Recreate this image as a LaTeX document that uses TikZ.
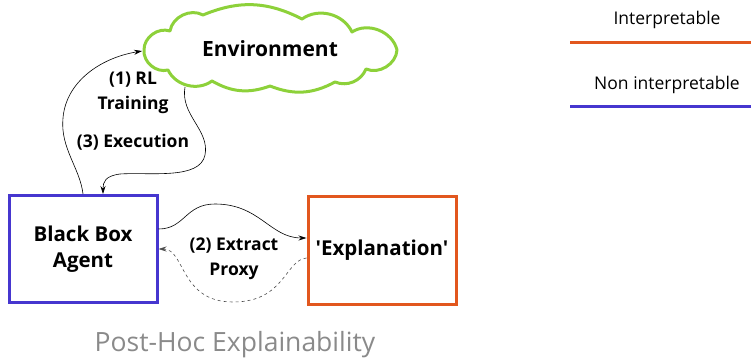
\documentclass[tikz,border=0pt]{standalone}
\usepackage{fontspec}
\setmainfont{Open Sans}
\newfontfamily\osplain{Open Sans}
\usetikzlibrary{arrows.meta}
\definecolor{orng}{HTML}{E2571E}
\definecolor{blu}{HTML}{4636CF}
\definecolor{grn}{HTML}{8DD13A}
\definecolor{gry}{HTML}{8A8A8A}
\begin{document}
\begin{tikzpicture}[x=1pt,y=-1pt,
  box/.style={draw,line width=3pt,minimum width=148pt,minimum height=107pt,align=center,font=\fontsize{20.5}{26}\selectfont\bfseries,inner sep=0pt},
  lbl/.style={font=\fontsize{17.5}{21}\selectfont\bfseries,inner sep=0pt},
  leg/.style={font=\fontsize{17.5}{21}\selectfont,inner sep=0pt},
  conn/.style={line width=0.6pt,-{Stealth[length=8pt,width=5pt]}},
  dconn/.style={conn,dashed,draw=black!70},
  cloudline/.style={draw=grn,line width=3pt,line join=round}]
\useasboundingbox (0,0) rectangle (751,363);
\draw[cloudline] (144,50) to[bend left=55] (170,31) to[bend left=55] (203,15)
  to[bend left=25] (302,19) to[bend left=50] (352,32) to[bend left=55] (397,50)
  to[bend left=55] (366,69) to[bend left=45] (335,82) to[bend left=25] (270,86)
  to[bend left=25] (212,81) to[bend left=50] (168,70) to[bend left=55] cycle;
\node[font=\fontsize{21}{25}\selectfont\bfseries] (env) at (270,49) {Environment};
\node[box,draw=blu] (ag) at (83,249) {Black Box\\Agent};
\node[box,draw=orng] (ex) at (382,250.5) {\osplain\bfseries 'Explanation'};
\node[font=\fontsize{26.5}{31}\selectfont,text=gry] (title) at (235,345) {Post-Hoc Explainability};
\node[lbl] (l1) at (133,80) {(1) RL};
\node[lbl] (l1b) at (133,105) {Training};
\node[lbl] (l3) at (133,142) {(3) Execution};
\node[lbl] (l2) at (234,246) {(2) Extract};
\node[lbl] (l2b) at (234,271) {Proxy};
\node[leg] (li) at (667,20) {Interpretable};
\node[leg] (ln) at (667,85) {Non interpretable};
\coordinate (oi1) at (570,43); \coordinate (oi2) at (751,43);
\coordinate (bn1) at (570,107); \coordinate (bn2) at (751,107);
\draw[orng,line width=3pt] (oi1) -- (oi2);
\draw[blu,line width=3pt] (bn1) -- (bn2);
\coordinate (rlend) at (142,51);
\coordinate (exstart) at (185,87);
\draw[conn] (ag.north) .. controls (80,168) and (60,148) .. (63,118) .. controls (66,82) and (100,58) .. (rlend);
\draw[conn] (exstart) .. controls (180,115) and (210,130) .. (205,155) .. controls (200,180) and (150,172) .. (120,174) .. controls (105,176) and (103,182) .. ([xshift=20pt]ag.north);
\draw[conn] ([yshift=20pt]ag.east) .. controls (185,229) and (185,204) .. (215,204) .. controls (260,204) and (270,238) .. ([yshift=12.5pt]ex.west);
\draw[dconn] ([yshift=-7.5pt]ex.west) .. controls (285,260) and (285,302) .. (233,302) .. controls (180,302) and (185,249) .. (ag.east);
\end{tikzpicture}
\end{document}
